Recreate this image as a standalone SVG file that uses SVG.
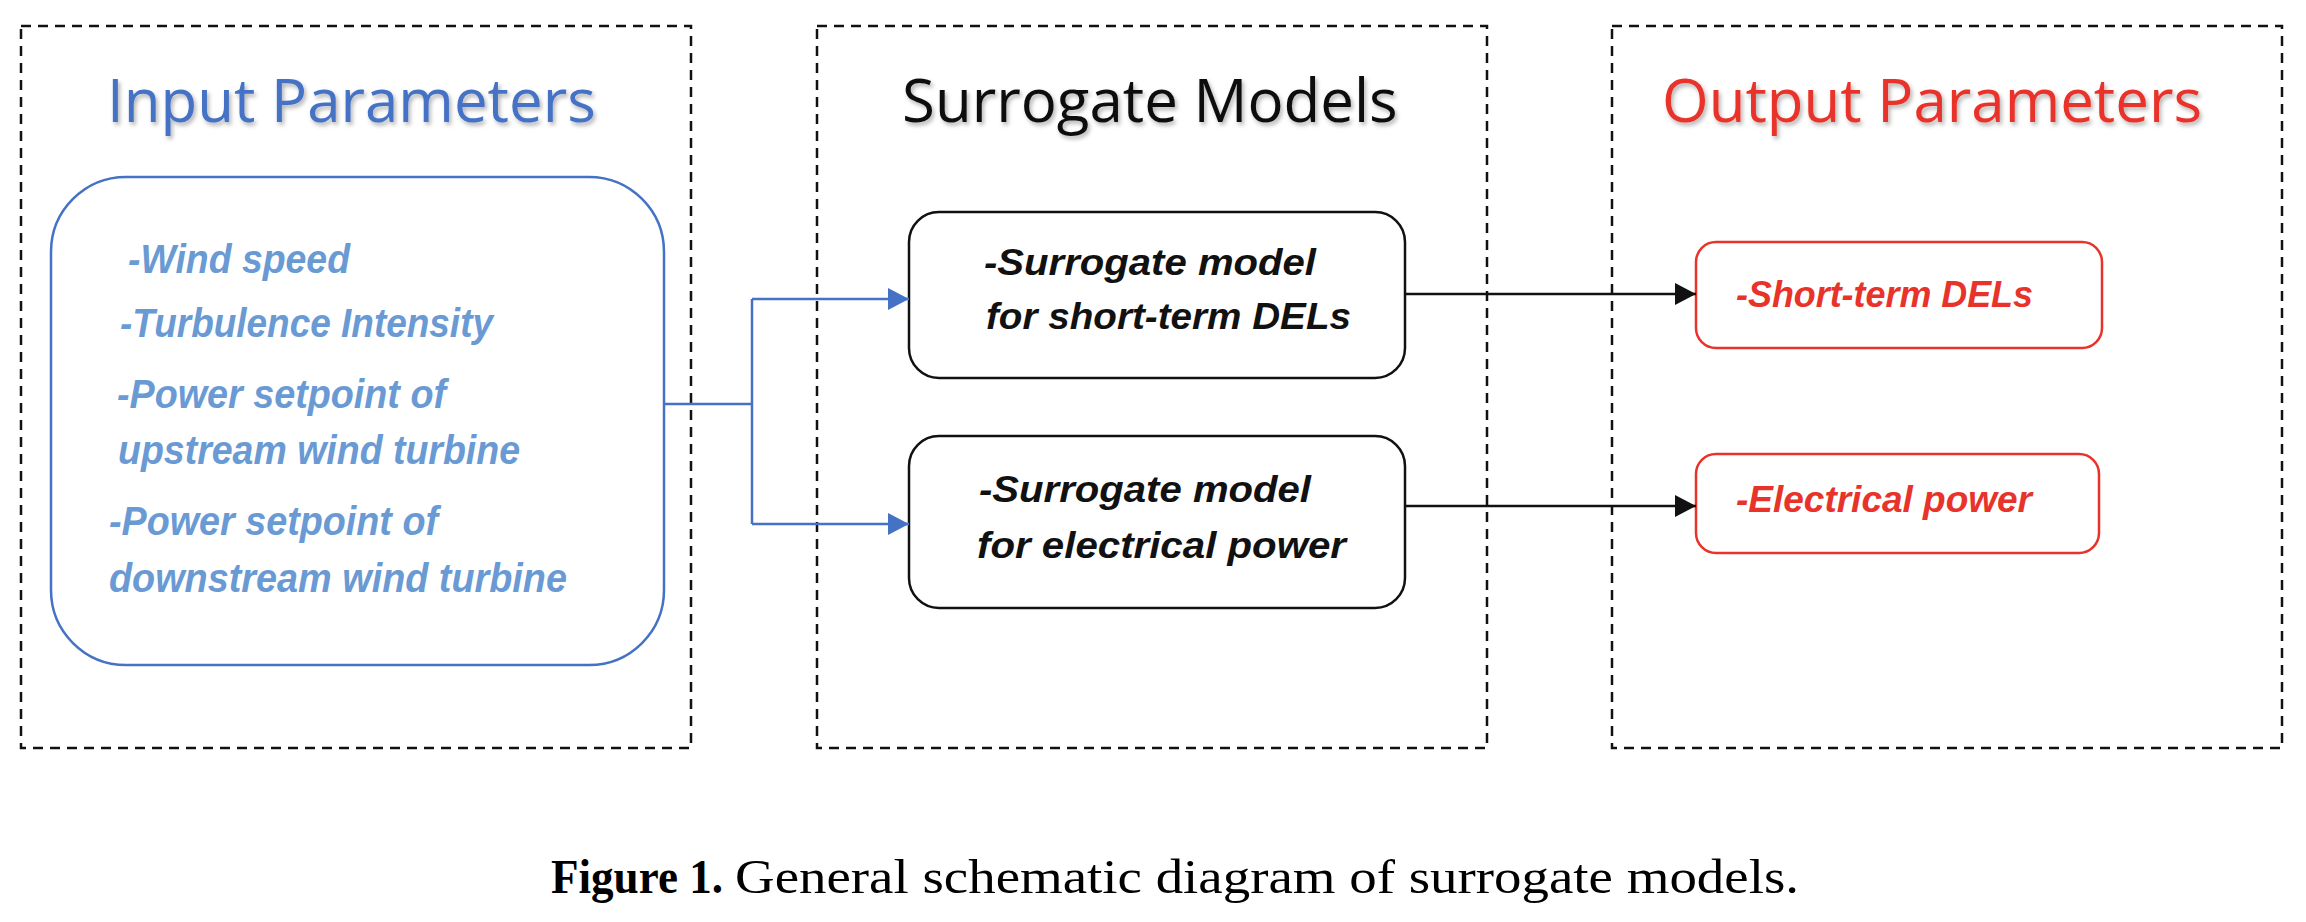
<svg xmlns="http://www.w3.org/2000/svg" width="2306" height="922" viewBox="0 0 2306 922">
<style>
.frame{fill:none;stroke:#111;stroke-width:2.5;stroke-dasharray:10 7}
.title{font-family:"Open Sans","Liberation Sans",sans-serif;font-size:60px}
.in{font-family:"Liberation Sans",Arial,sans-serif;font-style:italic;font-weight:bold;font-size:40px;fill:#6A9AD4}
.mid{font-family:"Liberation Sans",Arial,sans-serif;font-style:italic;font-weight:bold;font-size:37px;fill:#111}
.out{font-family:"Liberation Sans",Arial,sans-serif;font-style:italic;font-weight:bold;font-size:37px;fill:#E8332A}
.cap{font-family:"Liberation Serif","Times New Roman",serif;font-size:48px;fill:#000}
.blue{fill:none;stroke:#4472C4;stroke-width:2.5}
.black{fill:none;stroke:#111;stroke-width:2.5}
</style>
<defs>
<filter id="sh" x="-5%" y="-20%" width="110%" height="150%">
<feDropShadow dx="2" dy="3" stdDeviation="2" flood-color="#000" flood-opacity="0.3"/>
</filter>
<marker id="ab" markerUnits="userSpaceOnUse" markerWidth="22" markerHeight="22" refX="21" refY="11" orient="auto">
<path d="M0,0 L21,11 L0,22 Z" fill="#4472C4"/>
</marker>
<marker id="ak" markerUnits="userSpaceOnUse" markerWidth="22" markerHeight="22" refX="21" refY="11" orient="auto">
<path d="M0,0 L21,11 L0,22 Z" fill="#111"/>
</marker>
</defs>
<rect width="2306" height="922" fill="#fff"/>

<g id="input-panel">
<rect class="frame" x="21" y="26" width="670" height="722"/>
<text class="title" x="107" y="122" fill="#4472C4" filter="url(#sh)">Input Parameters</text>
</g>
<g id="surrogate-panel">
<rect class="frame" x="817" y="26" width="670" height="722"/>
<text class="title" x="902" y="122" fill="#111" filter="url(#sh)">Surrogate Models</text>
</g>
<g id="output-panel">
<rect class="frame" x="1612" y="26" width="670" height="722"/>
<text class="title" x="1662" y="122" fill="#E8332A" filter="url(#sh)">Output Parameters</text>
</g>

<g id="input-params">
<rect x="51" y="177" width="613" height="488" rx="75" ry="75" fill="none" stroke="#4472C4" stroke-width="2.5"/>
<text class="in" x="128" y="273" textLength="222" lengthAdjust="spacingAndGlyphs">-Wind speed</text>
<text class="in" x="120" y="337" textLength="373" lengthAdjust="spacingAndGlyphs">-Turbulence Intensity</text>
<text class="in" x="117" y="408" textLength="329" lengthAdjust="spacingAndGlyphs">-Power setpoint of</text>
<text class="in" x="118" y="464" textLength="402" lengthAdjust="spacingAndGlyphs">upstream wind turbine</text>
<text class="in" x="109" y="535" textLength="329" lengthAdjust="spacingAndGlyphs">-Power setpoint of</text>
<text class="in" x="109" y="592" textLength="458" lengthAdjust="spacingAndGlyphs">downstream wind turbine</text>
</g>

<g id="model-dels">
<rect x="909" y="212" width="496" height="166" rx="30" ry="30" fill="none" stroke="#111" stroke-width="2.5"/>
<text class="mid" x="984" y="275" textLength="332" lengthAdjust="spacingAndGlyphs">-Surrogate model</text>
<text class="mid" x="986" y="329" textLength="365" lengthAdjust="spacingAndGlyphs">for short-term DELs</text>
</g>
<g id="model-power">
<rect x="909" y="436" width="496" height="172" rx="30" ry="30" fill="none" stroke="#111" stroke-width="2.5"/>
<text class="mid" x="979" y="502" textLength="332" lengthAdjust="spacingAndGlyphs">-Surrogate model</text>
<text class="mid" x="977" y="558" textLength="369" lengthAdjust="spacingAndGlyphs">for electrical power</text>
</g>

<g id="out-dels">
<rect x="1696" y="242" width="406" height="106" rx="20" ry="20" fill="none" stroke="#E8332A" stroke-width="2.5"/>
<text class="out" x="1736" y="307" textLength="297" lengthAdjust="spacingAndGlyphs">-Short-term DELs</text>
</g>
<g id="out-power">
<rect x="1696" y="454" width="403" height="99" rx="20" ry="20" fill="none" stroke="#E8332A" stroke-width="2.5"/>
<text class="out" x="1736" y="512" textLength="296" lengthAdjust="spacingAndGlyphs">-Electrical power</text>
</g>

<g id="connectors">
<path class="blue" d="M665,404 H752"/>
<path class="blue" d="M752,299 V524"/>
<path class="blue" d="M752,299 H909" marker-end="url(#ab)"/>
<path class="blue" d="M752,524 H909" marker-end="url(#ab)"/>
<path class="black" d="M1405,294 H1696" marker-end="url(#ak)"/>
<path class="black" d="M1405,506 H1696" marker-end="url(#ak)"/>
</g>

<g id="caption">
<text class="cap" x="551" y="893" font-weight="bold" textLength="172" lengthAdjust="spacingAndGlyphs">Figure 1.</text>
<text class="cap" x="735" y="893" textLength="1064" lengthAdjust="spacingAndGlyphs">General schematic diagram of surrogate models.</text>
</g>
</svg>
